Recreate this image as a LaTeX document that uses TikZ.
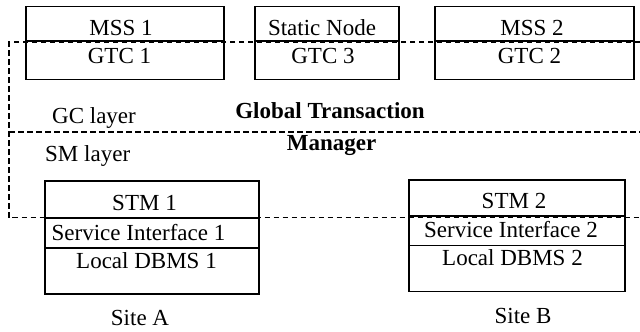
\documentclass[tikz,border=0pt]{standalone}
\usepackage{fontspec}
\setmainfont{Liberation Serif}
\begin{document}
\begin{tikzpicture}[x=1pt,y=-1pt,
  box/.style={draw=black,line width=1.3pt},
  layer/.style={draw=black,line width=1.3pt,dash pattern=on 5.5pt off 3.5pt},
  lbl/.style={inner sep=0pt,anchor=base,font=\fontsize{23}{27}\selectfont},
  blbl/.style={lbl,font=\fontsize{23}{27}\selectfont\bfseries}]
\useasboundingbox (0,0) rectangle (640,332);
% top boxes
\draw[box] (26,6.5) rectangle (224,79.5);  \draw[box] (26,41) -- (224,41);
\draw[box] (255,6.5) rectangle (399,79.5); \draw[box] (255,41) -- (399,41);
\draw[box] (435,6.5) rectangle (634,79.5); \draw[box] (435,41) -- (634,41);
\node[lbl] (mss1) at (121,35) {MSS 1};
\node[lbl] (gtc1) at (119.5,63) {GTC 1};
\node[lbl] (stat) at (322,35) {Static Node};
\node[lbl] (gtc3) at (323,63) {GTC 3};
\node[lbl] (mss2) at (532,35) {MSS 2};
\node[lbl] (gtc2) at (529.5,63) {GTC 2};
% site boxes
\draw[box] (45,181) rectangle (259,294);
\draw[box] (45,218) -- (259,218);
\draw[box] (45,248) -- (259,248);
\draw[box] (409,180) rectangle (625,291.5);
\draw[box] (409,216) -- (625,216);
\draw[box] (409,245.5) -- (625,245.5);
\node[lbl] (stm1) at (144.5,210) {STM 1};
\node[lbl] (si1) at (138.5,240) {Service Interface 1};
\node[lbl] (db1) at (146.5,268) {Local DBMS 1};
\node[lbl] (stm2) at (514,208) {STM 2};
\node[lbl] (si2) at (511,237.5) {Service Interface 2};
\node[lbl] (db2) at (512.5,265.5) {Local DBMS 2};
\node[lbl] (sa) at (140,325) {Site A};
\node[lbl] (sb) at (523,323.5) {Site B};
% layer labels
\node[lbl] (gc) at (94,123.5) {GC layer};
\node[lbl,anchor=base west] (sm) at (45,161.5) {SM layer};
\node[blbl] (gtm1) at (330,118) {Global Transaction};
\node[blbl] (gtm2) at (331.5,150) {Manager};
% dashed layer frame
\draw[layer] (640,42) -- (9,42) -- (9,217.5) -- (640,217.5);
\draw[layer] (9,132) -- (640,132);
\end{tikzpicture}
\end{document}
